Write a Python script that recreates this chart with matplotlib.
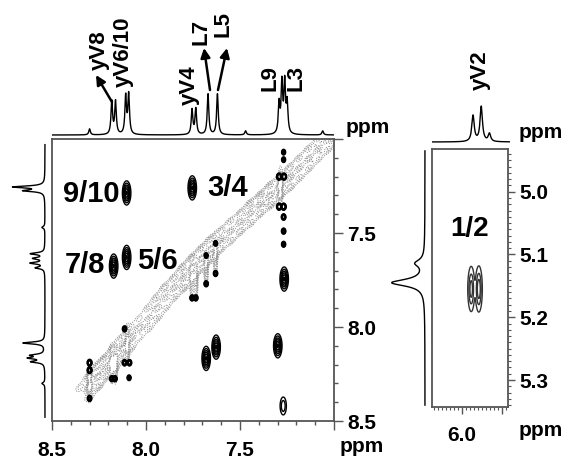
import numpy as np
import matplotlib
matplotlib.use("Agg")
import matplotlib.pyplot as plt
from matplotlib.ticker import MultipleLocator, FixedLocator, FixedFormatter

W, H = 562, 462
plt.rcParams['font.family'] = ['Liberation Sans', 'DejaVu Sans']
plt.rcParams['font.weight'] = 'bold'

# --- 1D projections (ppm, height in px) ---
top_ppm = [8.300, 8.182, 8.162, 8.108, 8.092, 7.755, 7.735, 7.670, 7.620, 7.470, 7.292, 7.277, 7.262, 7.249, 7.060]
top_int = [6, 33, 33, 38, 40, 25, 26, 41, 41, 4, 30, 50, 50, 30, 4]

left_ppm = [7.255, 7.275, 7.470, 7.610, 7.635, 7.660, 7.685, 8.085, 8.150, 8.165, 8.185, 8.300]
left_int = [31, 20, 3, 14, 11, 14, 9, 22, 13, 15, 13, 3]

yv2_top_ppm = [5.975, 5.955, 5.935]
yv2_top_int = [26, 35, 8]
yv2_left_ppm = [5.145, 5.114]
yv2_left_int = [33, 9]

# --- 2D peaks, main panel (F2 ppm, F1 ppm, rel. height) ---
cross_x = [8.103, 7.754, 8.172, 8.103, 7.680, 7.627, 7.299, 7.265, 7.270]
cross_y = [7.287, 7.260, 7.676, 7.630, 8.167, 8.107, 8.100, 7.745, 8.420]
cross_h = [1.0, 1.0, 1.0, 1.0, 1.0, 1.0, 1.0, 1.0, 0.35]

dot_x = [8.300, 8.300, 8.300, 8.182, 8.165, 8.114, 8.088, 8.114, 8.090, 7.755, 7.735,
         7.680, 7.630, 7.680, 7.630, 7.292, 7.266, 7.292, 7.268, 7.268, 7.268, 7.268, 7.268, 7.268]
dot_y = [8.190, 8.230, 8.380, 8.275, 8.275, 8.190, 8.190, 8.010, 8.270, 7.845, 7.845,
         7.770, 7.715, 7.620, 7.555, 7.200, 7.200, 7.360, 7.360, 7.415, 7.490, 7.560, 7.070, 7.110]
dot_h = [3, 3, 1.5, 1.5, 1.5, 2, 2, 1.5, 1, 1.5, 1.5,
         1.5, 1.5, 1, 1, 4, 4, 4, 4, 2, 1.5, 1.2, 1, 1]

# diagonal band: blob centres along the diagonal, three staggered rows
diag_u = [8.31, 8.26, 8.21, 8.17, 8.12, 8.07, 8.02, 7.97, 7.92, 7.87, 7.82, 7.77, 7.72, 7.67,
          7.62, 7.57, 7.52, 7.47, 7.42, 7.37, 7.32, 7.27, 7.22, 7.17, 7.12, 7.07, 7.02, 6.97]
diag_v = [0.02, 0.01, 0.0, 0.0, -0.01, -0.02, -0.03, -0.03, -0.04, -0.05, -0.06, -0.06, -0.07, -0.07,
          -0.07, -0.07, -0.06, -0.06, -0.05, -0.05, -0.04, -0.04, -0.03, -0.03, -0.03, -0.03, -0.03, -0.03]
diag_h_low = [0.5, 0.8, 0.9, 0.7, 0.9, 0.6, 0.4, 0.5, 0.6, 0.5, 0.6, 0.8, 0.9, 0.8,
              0.9, 0.7, 0.6, 0.7, 0.6, 0.7, 0.8, 0.9, 0.7, 0.6, 0.6, 0.5, 0.6, 0.5]
diag_h_mid = [0.9, 1.0, 1.0, 1.0, 1.0, 0.9, 0.7, 0.6, 0.7, 0.65, 0.8, 0.9, 1.0, 1.0,
              1.0, 0.9, 0.8, 0.8, 0.8, 0.9, 1.0, 1.0, 0.9, 0.8, 0.8, 0.75, 0.7, 0.7]
diag_h_high = [0.4, 0.7, 0.8, 0.9, 0.7, 0.6, 0.5, 0.4, 0.5, 0.6, 0.7, 0.7, 0.8, 0.9,
               0.8, 0.8, 0.7, 0.6, 0.7, 0.8, 0.9, 0.8, 0.8, 0.7, 0.6, 0.6, 0.5, 0.5]

# vertical grey streaks through the diagonal at the amide shifts
streak_x = [8.300, 8.182, 8.162, 8.100, 7.755, 7.735, 7.680, 7.630, 7.285]
streak_y = [8.290, 8.200, 8.200, 8.090, 7.760, 7.760, 7.680, 7.620, 7.250]
streak_h = [0.9, 0.8, 0.8, 0.9, 0.8, 0.8, 0.9, 0.9, 0.9]

# --- 2D peaks, yV2 panel ---
yv2_x = [5.977, 5.958]
yv2_y = [5.155, 5.155]
yv2_h = [1.0, 1.1]

labels_top = ["yV8", "yV6/10", "yV4", "L7", "L5", "L9", "L3"]
labels_top_xy = [(99, 50), (123, 52), (189, 85), (201, 32), (223, 24), (270, 78), (296, 78)]


def px_rect(left, top, w, h):
    return [left / W, 1 - (top + h) / H, w / W, h / H]


def lorentz(x, pos, hts, g):
    s = np.zeros_like(x)
    for p, h in zip(pos, hts):
        s += h / (1 + ((x - p) / g) ** 2)
    return s


fig = plt.figure(figsize=(W / 100, H / 100), dpi=100)
frame_c = '#555555'

# ---------------- main 2D panel ----------------
ax = fig.add_axes(px_rect(52, 139, 282, 282))
gx = np.linspace(6.95, 8.55, 750)
GX, GY = np.meshgrid(gx, gx)

Z = np.zeros_like(GX)
for x0, y0, h in zip(cross_x, cross_y, cross_h):
    Z += h * np.exp(-((GX - x0) ** 2 / (2 * 0.0105 ** 2) + (GY - y0) ** 2 / (2 * 0.030 ** 2)))
for x0, y0, h in zip(dot_x, dot_y, dot_h):
    Z += h * np.exp(-((GX - x0) ** 2 / (2 * 0.005 ** 2) + (GY - y0) ** 2 / (2 * 0.007 ** 2)))

U = (GX + GY) / 2
V = GY - GX
D = np.zeros_like(GX)
for rows_h, dv, du in [(diag_h_low, 0.05, 0.025), (diag_h_mid, 0.0, 0.0), (diag_h_high, -0.05, 0.025)]:
    for u0, v0, h in zip(diag_u, diag_v, rows_h):
        D += h * np.exp(-((U - u0 - du) ** 2 / (2 * 0.016 ** 2) + (V - v0 - dv) ** 2 / (2 * 0.017 ** 2)))
for x0, y0, h in zip(streak_x, streak_y, streak_h):
    D += h * np.exp(-((GX - x0) ** 2 / (2 * 0.007 ** 2) + (GY - y0) ** 2 / (2 * 0.06 ** 2)))

ax.contour(GX, GY, D, levels=[0.18, 0.32, 0.46, 0.6, 0.74, 0.88, 1.05],
           colors='#808080', linewidths=0.5, linestyles=[(0, (2, 1.5))])
ax.contour(GX, GY, Z, levels=[0.1, 0.22, 0.38, 0.55, 0.75, 0.95], colors='k', linewidths=1.0)

ax.set_xlim(8.5, 7.0)
ax.set_ylim(8.5, 7.0)
ax.xaxis.set_major_locator(FixedLocator([8.5, 8.0, 7.5, 7.0]))
ax.xaxis.set_major_formatter(FixedFormatter(['8.5', '8.0', '7.5', '']))
ax.yaxis.set_major_locator(FixedLocator([7.0, 7.5, 8.0, 8.5]))
ax.yaxis.set_major_formatter(FixedFormatter(['', '7.5', '8.0', '8.5']))
ax.xaxis.set_minor_locator(MultipleLocator(0.1))
ax.yaxis.set_minor_locator(MultipleLocator(0.1))
ax.yaxis.tick_right()
ax.tick_params(which='major', direction='out', length=6.5, width=1, color=frame_c, labelsize=15)
ax.tick_params(which='minor', direction='out', length=3, width=1, color=frame_c)
ax.tick_params(axis='x', which='major', pad=8)
ax.tick_params(axis='y', which='major', pad=3)
for sp in ax.spines.values():
    sp.set_color(frame_c)
    sp.set_linewidth(1.3)

ax.text(8.44, 7.29, "9/10", fontsize=21, fontweight='bold', ha='left', va='center')
ax.text(7.675, 7.26, "3/4", fontsize=21, fontweight='bold', ha='left', va='center')
ax.text(8.43, 7.67, "7/8", fontsize=21, fontweight='bold', ha='left', va='center')
ax.text(8.045, 7.65, "5/6", fontsize=21, fontweight='bold', ha='left', va='center')

# top projection
ax_t = fig.add_axes(px_rect(52, 60, 282, 77))
sx = np.linspace(7.0, 8.5, 1500)
ax_t.plot(sx, lorentz(sx, top_ppm, top_int, 0.005), color='k', lw=1.0)
ax_t.set_xlim(8.5, 7.0)
ax_t.set_ylim(-2, 75)
ax_t.axis('off')

# left projection
ax_l = fig.add_axes(px_rect(5, 139, 44, 282))
sy = np.linspace(7.03, 8.48, 1500)
ax_l.plot(lorentz(sy, left_ppm, left_int, 0.006), sy, color='k', lw=1.0)
ax_l.set_xlim(40, -4)
ax_l.set_ylim(8.5, 7.0)
ax_l.axis('off')

# ---------------- yV2 panel ----------------
ax2 = fig.add_axes(px_rect(432, 149, 76, 258))
rx = np.linspace(5.85, 6.1, 400)
ry = np.linspace(4.9, 5.4, 600)
RX, RY = np.meshgrid(rx, ry)
Z2 = np.zeros_like(RX)
for x0, y0, h in zip(yv2_x, yv2_y, yv2_h):
    Z2 += h * np.exp(-((RX - x0) ** 2 / (2 * 0.0042 ** 2) + (RY - y0) ** 2 / (2 * 0.0175 ** 2)))
ax2.contour(RX, RY, Z2, levels=[0.12, 0.4, 0.75], colors='#333333', linewidths=1.0)
ax2.set_xlim(6.075, 5.885)
ax2.set_ylim(5.343, 4.932)
ax2.xaxis.set_major_locator(FixedLocator([6.0, 5.9]))
ax2.xaxis.set_major_formatter(FixedFormatter(['6.0', '']))
ax2.yaxis.set_major_locator(FixedLocator([5.0, 5.1, 5.2, 5.3]))
ax2.yaxis.set_major_formatter(FixedFormatter(['5.0', '5.1', '5.2', '5.3']))
ax2.xaxis.set_minor_locator(MultipleLocator(0.01))
ax2.yaxis.set_minor_locator(MultipleLocator(0.01))
ax2.yaxis.tick_right()
ax2.tick_params(which='major', direction='out', length=5, width=1, color=frame_c, labelsize=15)
ax2.tick_params(which='minor', direction='out', length=2.5, width=0.8, color=frame_c)
ax2.tick_params(axis='x', which='major', pad=9)
ax2.tick_params(axis='y', which='major', pad=3)
for sp in ax2.spines.values():
    sp.set_color(frame_c)
    sp.set_linewidth(1.3)
ax2.text(5.98, 5.06, "1/2", fontsize=20, fontweight='bold', ha='center', va='center')

ax2_t = fig.add_axes(px_rect(432, 100, 78, 44))
tx = np.linspace(5.885, 6.075, 500)
ax2_t.plot(tx, lorentz(tx, yv2_top_ppm, yv2_top_int, 0.0035), color='k', lw=1.0)
ax2_t.set_xlim(6.075, 5.885)
ax2_t.set_ylim(-2, 42)
ax2_t.axis('off')

ax2_l = fig.add_axes(px_rect(385, 149, 44, 258))
ly = np.linspace(4.935, 5.34, 600)
ax2_l.plot(lorentz(ly, yv2_left_ppm, yv2_left_int, 0.0065), ly, color='k', lw=1.0)
ax2_l.set_xlim(40, -4)
ax2_l.set_ylim(5.343, 4.932)
ax2_l.axis('off')

# ---------------- labels and arrows ----------------
for txt, (x, y) in zip(labels_top, labels_top_xy):
    fig.text(x / W, 1 - y / H, txt, rotation=90, fontsize=16, fontweight='bold',
             ha='center', va='center')
fig.text(480 / W, 1 - 70 / H, "yV2", rotation=90, fontsize=16, fontweight='bold',
         ha='center', va='center')

for x, y in [(368, 127), (362, 447), (541, 133), (541, 430)]:
    fig.text(x / W, 1 - y / H, "ppm", fontsize=15, fontweight='bold', ha='center', va='center')

for (xt, yt), (xh, yh) in [((112, 102), (96, 75)), ((210, 90), (204, 48)), ((218, 90), (227, 48))]:
    ax_t.annotate('', xy=(xh, H - yh), xytext=(xt, H - yt), xycoords='figure pixels',
                  textcoords='figure pixels', annotation_clip=False,
                  arrowprops=dict(arrowstyle='-|>', lw=1.8, color='k', mutation_scale=14,
                                  shrinkA=0, shrinkB=0))

fig.savefig("out.png", dpi=100)
